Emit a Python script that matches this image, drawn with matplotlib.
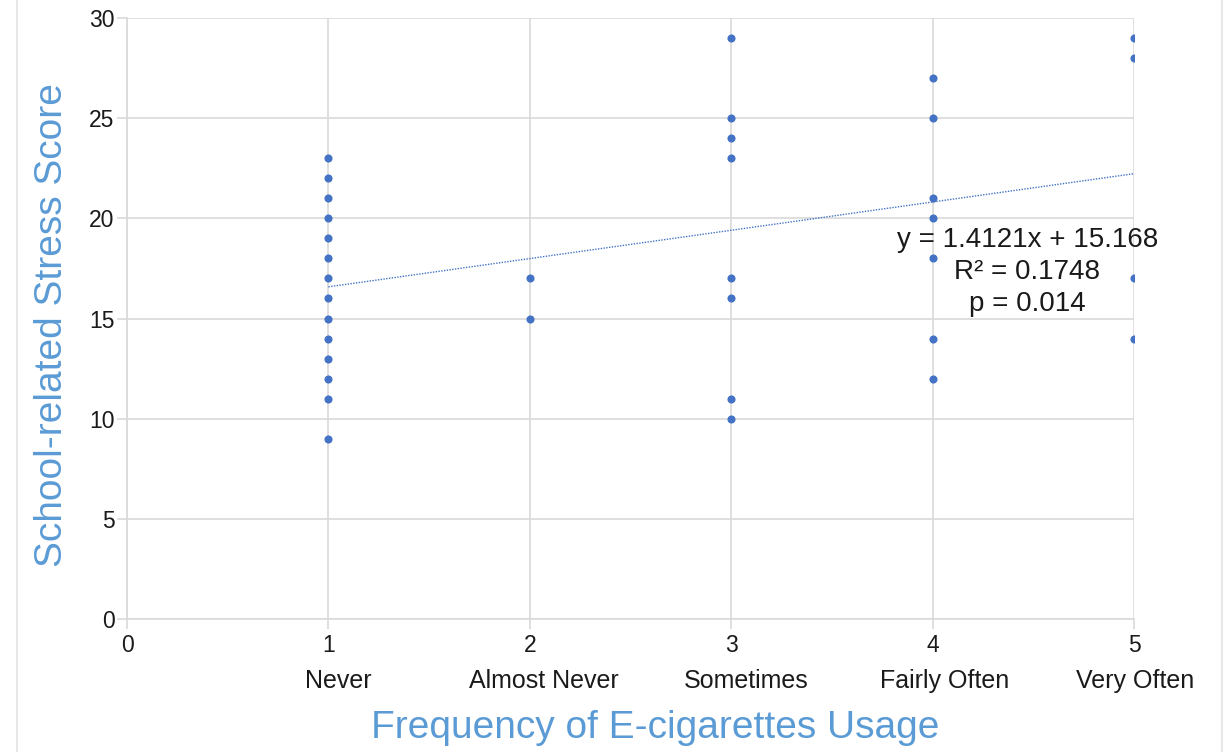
import numpy as np
import matplotlib
matplotlib.use("Agg")
import matplotlib.pyplot as plt
from matplotlib.lines import Line2D

plt.rcParams['font.family'] = ['Liberation Sans', 'DejaVu Sans']

# frequency of e-cigarette use (1..5) and school stress score
freq_never = [1] * 14
stress_never = [23, 22, 21, 20, 19, 18, 17, 16, 15, 14, 13, 12, 11, 9]
freq_almost = [2] * 2
stress_almost = [17, 15]
freq_sometimes = [3] * 8
stress_sometimes = [29, 25, 24, 23, 17, 16, 11, 10]
freq_fairly = [4] * 7
stress_fairly = [27, 25, 21, 20, 18, 14, 12]
freq_very = [5] * 4
stress_very = [29, 28, 17, 14]

categories = ["Never", "Almost Never", "Sometimes", "Fairly Often", "Very Often"]
cat_pos = [1, 2, 3, 4, 5]
slope = 1.4121
intercept = 15.168
r2 = 0.1748
pval = 0.014

x = np.array(freq_never + freq_almost + freq_sometimes + freq_fairly + freq_very)
y = np.array(stress_never + stress_almost + stress_sometimes + stress_fairly + stress_very)

blue = "#4472C4"
grid = "#D9D9D9"
title_blue = "#5B9BD5"

fig = plt.figure(figsize=(12.31, 7.52), dpi=100)
ax = fig.add_axes([127 / 1231, 1 - 619 / 752, (1134 - 127) / 1231, (619 - 18) / 752])

ax.scatter(x, y, s=34, color=blue, zorder=3, linewidths=0)

xs = np.array([1, 5])
ax.plot(xs, slope * xs + intercept, color=blue, linestyle=(0, (1, 1)), linewidth=1.0, zorder=2)

ax.set_xlim(0, 5)
ax.set_ylim(0, 30)
ax.set_xticks([0, 1, 2, 3, 4, 5])
ax.set_yticks([0, 5, 10, 15, 20, 25, 30])
ax.grid(True, color=grid, linewidth=1.2, zorder=0)
ax.set_axisbelow(True)
for side in ["top", "right"]:
    ax.spines[side].set_visible(False)
for side in ["left", "bottom"]:
    ax.spines[side].set_color(grid)
    ax.spines[side].set_linewidth(1.2)
ax.tick_params(axis="both", colors=grid, width=1.2, length=7, labelcolor="#1a1a1a", labelsize=16.5)
ax.tick_params(axis="x", pad=4)
ax.tick_params(axis="y", pad=2)

offsets = [0.05, 0.07, 0.075, 0.06, 0.005]
for pos, lab, off in zip(cat_pos, categories, offsets):
    ax.text(pos + off, -3.1, lab, ha="center", va="center", fontsize=18, color="#1a1a1a", clip_on=False)

ax.text(4.47, 17.3, f"y = {slope}x + {intercept}\nR² = {r2}\np = {pval}",
        ha="center", va="center", fontsize=20, color="#1a1a1a", linespacing=1.3, zorder=4)

fig.text(655 / 1231, 1 - 728 / 752, "Frequency of E-cigarettes Usage", ha="center", va="center",
         fontsize=28, color=title_blue)
fig.text(52 / 1231, 1 - 325 / 752, "School-related Stress Score", ha="center", va="center",
         fontsize=28, color=title_blue, rotation=90)

fig.add_artist(Line2D([17 / 1231, 17 / 1231], [0, 1], color="#E3E3E3", linewidth=1.2))
fig.add_artist(Line2D([1222 / 1231, 1222 / 1231], [0, 1], color="#E3E3E3", linewidth=1.2))

fig.savefig("out.png", dpi=100, facecolor="white")
